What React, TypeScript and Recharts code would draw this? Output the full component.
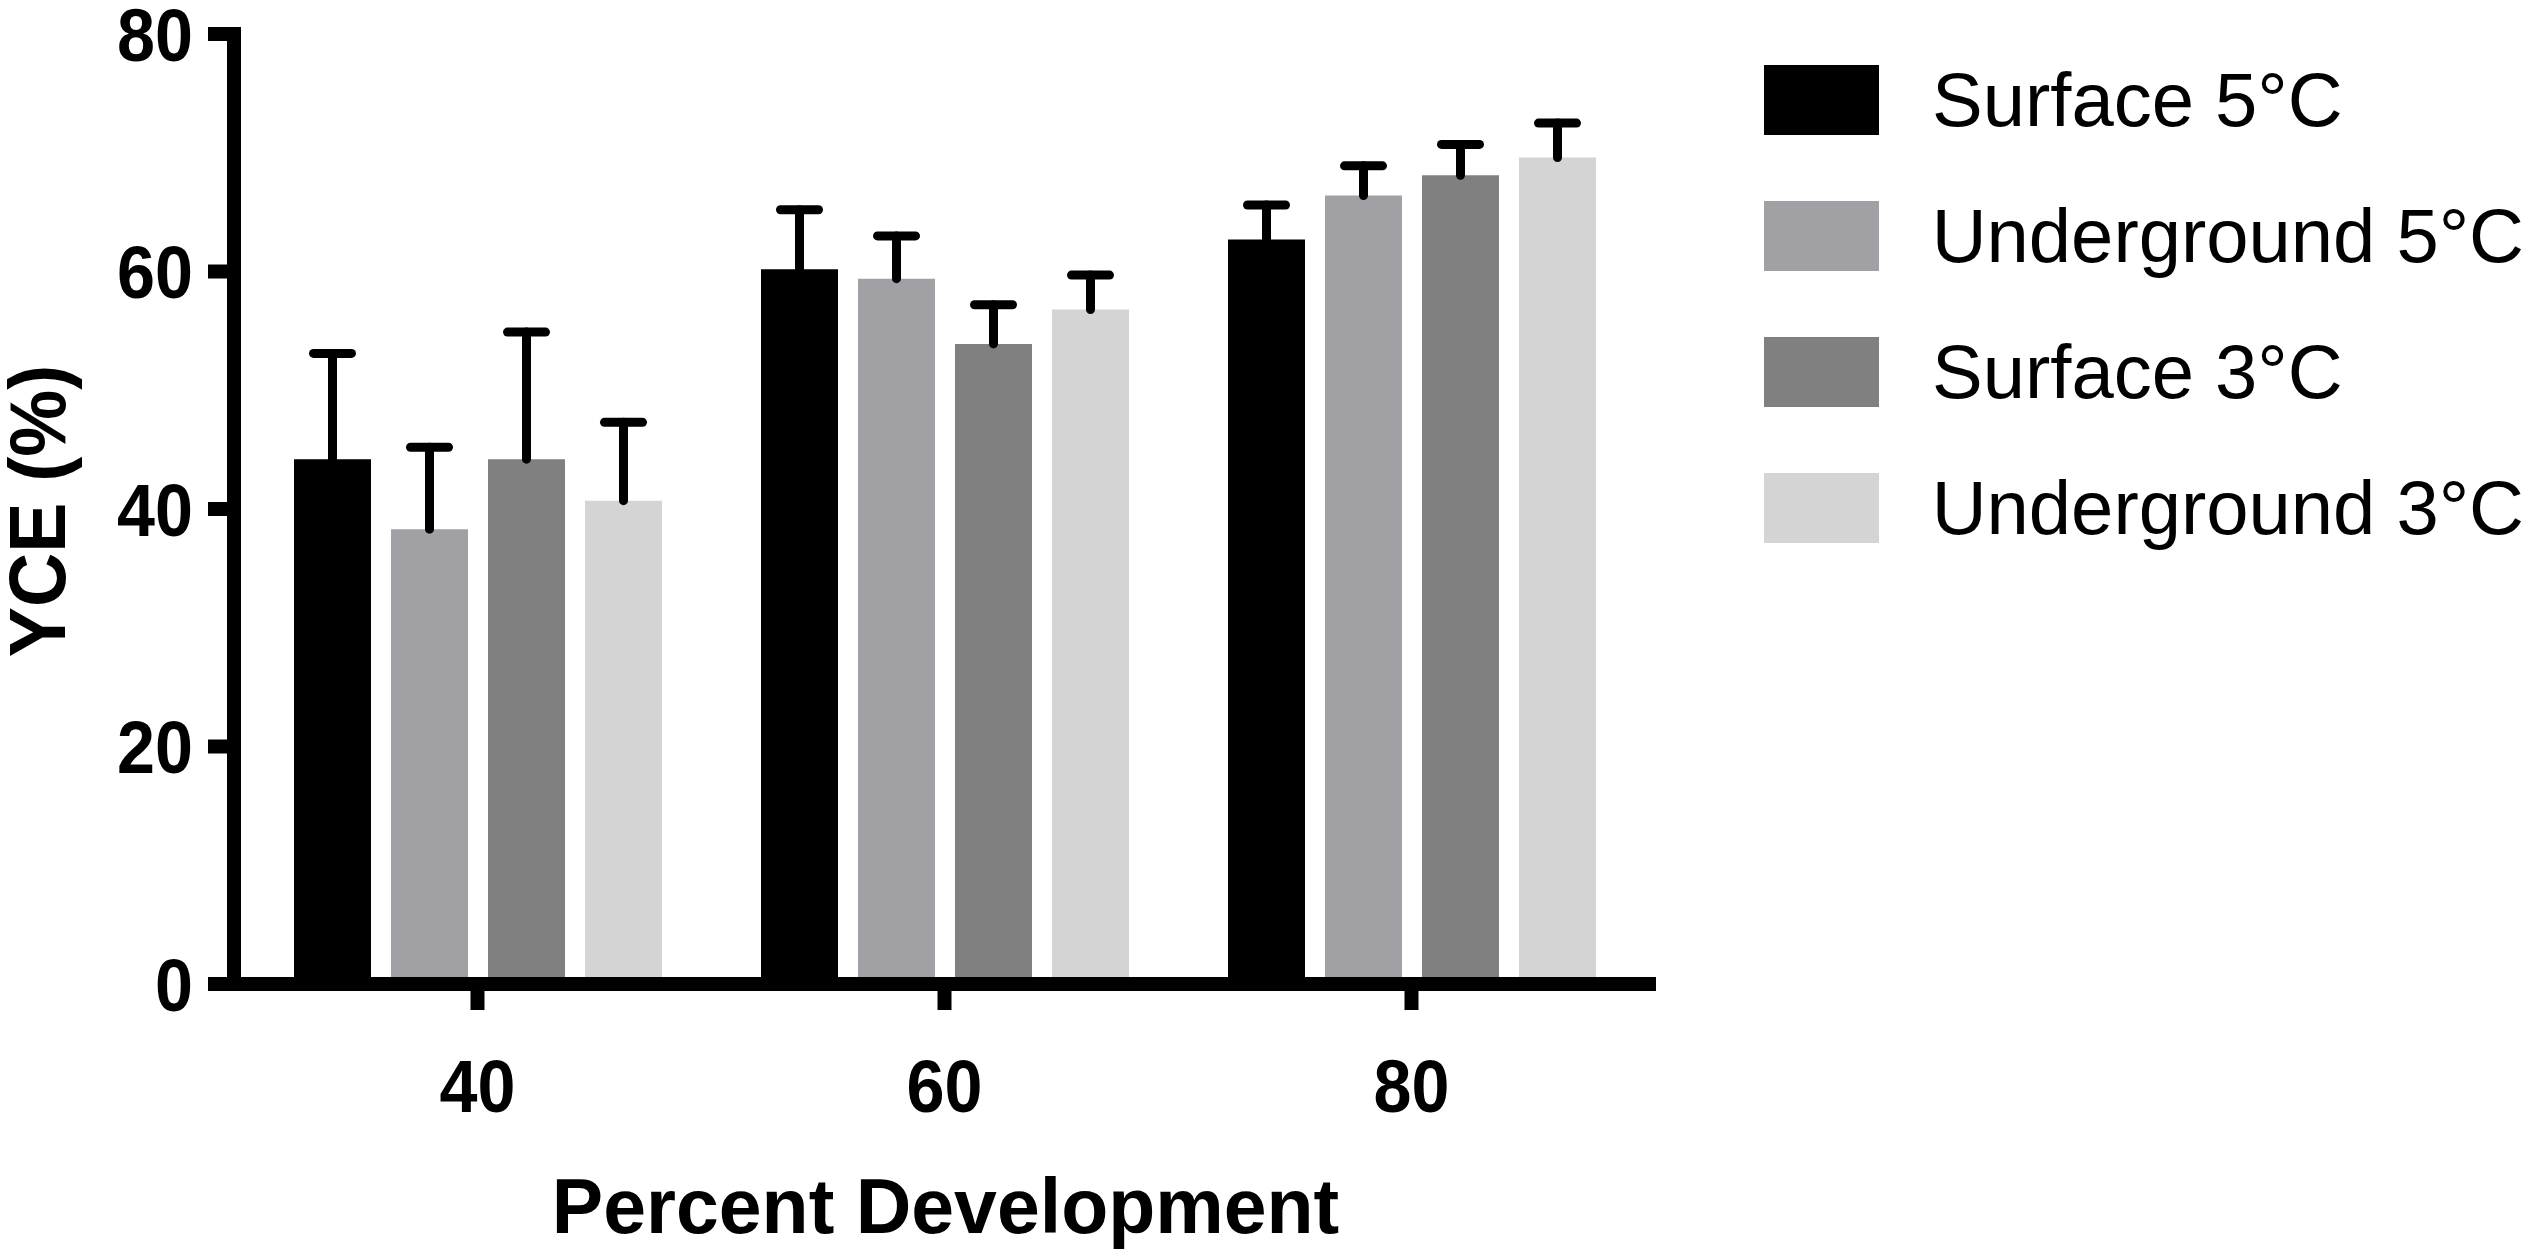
import { Bar, BarChart, Label, Legend, XAxis, YAxis } from "recharts";

const CATEGORIES = ["40", "60", "80"];
const SERIES_NAMES = ["Surface 5°C", "Underground 5°C", "Surface 3°C", "Underground 3°C"];
const SERIES_COLORS = ["#000000", "#a1a1a5", "#808080", "#d4d4d4"];

const SURFACE_5 = [44.2, 60.2, 62.7];
const SURFACE_5_ERR = [8.9, 5.0, 2.9];
const UNDERGROUND_5 = [38.3, 59.4, 66.4];
const UNDERGROUND_5_ERR = [6.9, 3.6, 2.5];
const SURFACE_3 = [44.2, 53.9, 68.1];
const SURFACE_3_ERR = [10.7, 3.3, 2.6];
const UNDERGROUND_3 = [40.7, 56.8, 69.6];
const UNDERGROUND_3_ERR = [6.6, 2.9, 2.9];

const Y_TICKS = [0, 20, 40, 60, 80];

const FONT = '"Liberation Sans", Arial, Helvetica, sans-serif';

const means = [SURFACE_5, UNDERGROUND_5, SURFACE_3, UNDERGROUND_3];
const errs = [SURFACE_5_ERR, UNDERGROUND_5_ERR, SURFACE_3_ERR, UNDERGROUND_3_ERR];

const data = CATEGORIES.map((pct, i) => {
  const row: Record<string, string | number> = { pct };
  means.forEach((m, s) => {
    row[`m${s}`] = m[i];
    row[`e${s}`] = errs[s][i];
  });
  return row;
});

// one-sided SD bar drawn on top of the stacked error segment
function ErrorCap(props: any) {
  const { x, y, width, height } = props;
  if (height == null || !width) return null;
  const cx = x + width / 2;
  return (
    <g>
      <line x1={cx} x2={cx} y1={y + height} y2={y} stroke="#000" strokeWidth={9} strokeLinecap="round" />
      <line x1={cx - 19} x2={cx + 19} y1={y} y2={y} stroke="#000" strokeWidth={9} strokeLinecap="round" />
    </g>
  );
}

function YTick({ x, y, payload }: any) {
  return (
    <text
      transform={`translate(${x},${y}) scale(0.91,1)`}
      dy="0.358em"
      textAnchor="end"
      fontFamily={FONT}
      fontWeight="bold"
      fontSize={75}
      fill="#000"
    >
      {payload.value}
    </text>
  );
}

function XTick({ x, y, payload }: any) {
  return (
    <text
      transform={`translate(${x},${y}) scale(0.91,1)`}
      dy={54}
      textAnchor="middle"
      fontFamily={FONT}
      fontWeight="bold"
      fontSize={75}
      fill="#000"
    >
      {payload.value}
    </text>
  );
}

function XTitle({ viewBox }: any) {
  const cx = viewBox.x + viewBox.width / 2 + 4;
  return (
    <text x={cx} y={viewBox.y + 249} textAnchor="middle" fontFamily={FONT} fontWeight="bold" fontSize={77} fill="#000">
      Percent Development
    </text>
  );
}

function YTitle({ viewBox }: any) {
  const bx = viewBox.x + 31;
  const cy = viewBox.y + viewBox.height / 2 + 2;
  return (
    <text
      transform={`translate(${bx},${cy}) rotate(-90) scale(0.94,1)`}
      textAnchor="middle"
      fontFamily={FONT}
      fontWeight="bold"
      fontSize={80}
      fill="#000"
    >
      YCE (%)
    </text>
  );
}

function LegendList({ payload }: any) {
  const items = (payload || [])
    .filter((entry: any) => SERIES_NAMES.includes(entry.value))
    .sort((a: any, b: any) => SERIES_NAMES.indexOf(a.value) - SERIES_NAMES.indexOf(b.value));
  return (
    <div style={{ fontFamily: FONT, fontSize: 76, color: "#000" }}>
      {items.map((entry: any) => (
        <div key={entry.value} style={{ display: "flex", alignItems: "center", height: 70, marginBottom: 66 }}>
          <div style={{ width: 115, height: 70, background: entry.color }} />
          <span style={{ marginLeft: 53, lineHeight: 1, whiteSpace: "nowrap" }}>{entry.value}</span>
        </div>
      ))}
    </div>
  );
}

export default function App() {
  return (
    <div style={{ position: "fixed", left: 0, top: 0, width: 2533, height: 1257, background: "#fff" }}>
      <BarChart
        width={2533}
        height={1257}
        data={data}
        margin={{ top: 34, right: 884, left: 34, bottom: 123 }}
        barSize={77}
        barGap={20}
      >
        <XAxis
          dataKey="pct"
          height={150}
          padding={{ left: 10, right: 4 }}
          axisLine={{ stroke: "#000", strokeWidth: 14, strokeLinecap: "square" }}
          tickLine={{ stroke: "#000", strokeWidth: 14 }}
          tickSize={26}
          tickMargin={48}
          tick={<XTick />}
        >
          <Label content={<XTitle />} />
        </XAxis>
        <YAxis
          width={200}
          domain={[0, 80]}
          ticks={Y_TICKS}
          interval={0}
          axisLine={{ stroke: "#000", strokeWidth: 14, strokeLinecap: "square" }}
          tickLine={{ stroke: "#000", strokeWidth: 14 }}
          tickSize={26}
          tickMargin={15}
          tick={<YTick />}
        >
          <Label content={<YTitle />} />
        </YAxis>
        <Legend
          layout="horizontal"
          align="center"
          verticalAlign="middle"
          content={<LegendList />}
          wrapperStyle={{ left: 1764, top: 65, width: 760, height: 560 }}
        />
        {SERIES_NAMES.map((name, s) => (
          <Bar
            key={`m${s}`}
            dataKey={`m${s}`}
            name={name}
            stackId={`s${s}`}
            fill={SERIES_COLORS[s]}
            isAnimationActive={false}
          />
        ))}
        {SERIES_NAMES.map((name, s) => (
          <Bar
            key={`e${s}`}
            dataKey={`e${s}`}
            name={`${name} SD`}
            stackId={`s${s}`}
            fill="none"
            legendType="none"
            shape={<ErrorCap />}
            isAnimationActive={false}
          />
        ))}
      </BarChart>
    </div>
  );
}
